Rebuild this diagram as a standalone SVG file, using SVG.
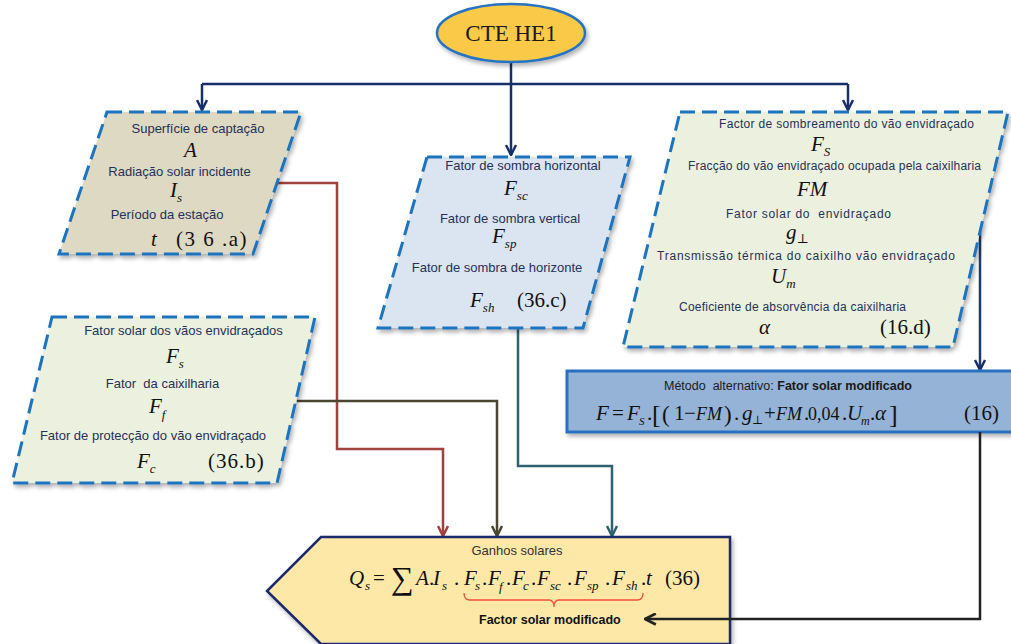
<svg xmlns="http://www.w3.org/2000/svg" width="1011" height="644" viewBox="0 0 1011 644">
  <defs>
    <style>
      .lbl { font-family: "Liberation Sans", Arial, sans-serif; font-size: 13px; fill: #26305a; text-anchor: middle; }
      .lbl2 { font-family: "Liberation Sans", Arial, sans-serif; font-size: 12px; fill: #26305a; text-anchor: middle; }
      .m { font-family: "Liberation Serif", "DejaVu Serif", serif; font-style: italic; font-size: 21px; fill: #111; }
      .n { font-style: normal; }
      .sub { font-size: 13px; }
      .box { stroke: #1e73be; stroke-width: 3; stroke-dasharray: 15 7; filter: url(#shadow); }
      .conn { fill: none; stroke-width: 2.5; }
    </style>
    <filter id="shadow" x="-10%" y="-10%" width="125%" height="125%">
      <feDropShadow dx="2" dy="3" stdDeviation="2" flood-color="#000" flood-opacity="0.3"/>
    </filter>
    <marker id="aNavy" viewBox="0 0 12 12" refX="11" refY="6" markerWidth="12" markerHeight="12" markerUnits="userSpaceOnUse" orient="auto">
      <path d="M1,1 L11,6 L1,11" fill="none" stroke="#17306b" stroke-width="2.5"/>
    </marker>
    <marker id="aRed" viewBox="0 0 12 12" refX="11" refY="6" markerWidth="12" markerHeight="12" markerUnits="userSpaceOnUse" orient="auto">
      <path d="M1,1 L11,6 L1,11" fill="none" stroke="#a2403c" stroke-width="2.5"/>
    </marker>
    <marker id="aOlive" viewBox="0 0 12 12" refX="11" refY="6" markerWidth="12" markerHeight="12" markerUnits="userSpaceOnUse" orient="auto">
      <path d="M1,1 L11,6 L1,11" fill="none" stroke="#4a4630" stroke-width="2.5"/>
    </marker>
    <marker id="aTeal" viewBox="0 0 12 12" refX="11" refY="6" markerWidth="12" markerHeight="12" markerUnits="userSpaceOnUse" orient="auto">
      <path d="M1,1 L11,6 L1,11" fill="none" stroke="#2f6172" stroke-width="2.5"/>
    </marker>
    <marker id="aBlack" viewBox="0 0 12 12" refX="11" refY="6" markerWidth="13" markerHeight="13" markerUnits="userSpaceOnUse" orient="auto">
      <path d="M1,1 L11,6 L1,11" fill="none" stroke="#222" stroke-width="2.5"/>
    </marker>
  </defs>

  <rect width="1011" height="644" fill="#ffffff"/>

  <!-- connectors -->
  <g id="connectors">
    <line class="conn" x1="511" y1="62" x2="511" y2="155" stroke="#17306b" marker-end="url(#aNavy)"/>
    <line class="conn" x1="202" y1="84" x2="848" y2="84" stroke="#17306b"/>
    <line class="conn" x1="202" y1="84" x2="202" y2="110" stroke="#17306b" marker-end="url(#aNavy)"/>
    <line class="conn" x1="848" y1="84" x2="848" y2="110" stroke="#17306b" marker-end="url(#aNavy)"/>
    <path class="conn" d="M277,183 H337 V449 H443 V536" stroke="#a2403c" marker-end="url(#aRed)"/>
    <path class="conn" d="M297,401 H497 V536" stroke="#4a4630" marker-end="url(#aOlive)"/>
    <path class="conn" d="M518,328 V466 H612 V536" stroke="#2f6172" marker-end="url(#aTeal)"/>
    <path class="conn" d="M980,230 V370" stroke="#1f3a6a" marker-end="url(#aNavy)"/>
  </g>

  <!-- start node -->
  <g id="cte-he1">
    <ellipse cx="511" cy="33" rx="74" ry="29" fill="#f9c946" stroke="#2673c4" stroke-width="2.5" filter="url(#shadow)"/>
    <text x="511" y="41" font-family="Liberation Serif, serif" font-size="23" fill="#1a1a1a" text-anchor="middle">CTE HE1</text>
  </g>

  <!-- captação / radiação / período -->
  <g id="box-a">
    <path class="box" d="M107,112 H301 L253,254 H59 Z" fill="#ddd9c3"/>
    <text class="lbl" x="198" y="133">Superfície de captação</text>
    <text class="m" x="184" y="157">A</text>
    <text class="lbl" x="179.5" y="176">Radiação solar incidente</text>
    <text class="m" x="170" y="197">I<tspan class="sub" dy="5">s</tspan></text>
    <text class="lbl" x="167" y="219">Período da estação</text>
    <text class="m" x="151" y="246">t</text>
    <text class="m n" x="176" y="246" letter-spacing="1.5">(3 6 .a)</text>
  </g>

  <!-- sombreamento -->
  <g id="box-c">
    <path class="box" d="M427,157 H630 L583,328 H378 Z" fill="#dbe5f1"/>
    <text class="lbl" x="523" y="170">Fator de sombra horizontal</text>
    <text class="m" x="504" y="195">F<tspan class="sub" dy="5">sc</tspan></text>
    <text class="lbl" x="510" y="223">Fator de sombra vertical</text>
    <text class="m" x="492" y="243">F<tspan class="sub" dy="5">sp</tspan></text>
    <text class="lbl" x="497" y="272">Fator de sombra de horizonte</text>
    <text class="m" x="470" y="307">F<tspan class="sub" dy="5">sh</tspan></text>
    <text class="m n" x="517" y="307">(36.c)</text>
  </g>

  <!-- parâmetros do fator solar modificado -->
  <g id="box-d">
    <path class="box" d="M680,112 H1008 L953,347 H623 Z" fill="#ebf1de"/>
    <text class="lbl2" x="846.5" y="128" textLength="255" lengthAdjust="spacing">Factor de sombreamento do vão envidraçado</text>
    <text class="m" x="811" y="151" font-size="24">F<tspan class="sub" dy="5" font-size="15">S</tspan></text>
    <text class="lbl2" x="834.5" y="170" textLength="293" lengthAdjust="spacing">Fracção do vão envidraçado ocupada pela caixilharia</text>
    <text class="m" x="797" y="196">FM</text>
    <text class="lbl2" x="808.5" y="218" textLength="165" lengthAdjust="spacing">Fator solar do&#160; envidraçado</text>
    <text class="m" x="786" y="239">g<tspan class="n sub" dy="4">⊥</tspan></text>
    <text class="lbl2" x="806" y="260" textLength="298" lengthAdjust="spacing">Transmissão térmica do caixilho vão envidraçado</text>
    <text class="m" x="771" y="283">U<tspan class="sub" dy="5">m</tspan></text>
    <text class="lbl2" x="792.5" y="311" textLength="227" lengthAdjust="spacing">Coeficiente de absorvência da caixilharia</text>
    <text class="m" x="759" y="334" font-size="22">α</text>
    <text class="m n" x="880" y="334">(16.d)</text>
  </g>

  <!-- fatores solares do vão -->
  <g id="box-b">
    <path class="box" d="M52,317 H315 L277,483 H12 Z" fill="#ebf1de"/>
    <text class="lbl" x="183.5" y="335">Fator solar dos vãos envidraçados</text>
    <text class="m" x="166" y="363">F<tspan class="sub" dy="5">s</tspan></text>
    <text class="lbl" x="162.5" y="388">Fator&#160; da caixilharia</text>
    <text class="m" x="149" y="413">F<tspan class="sub" dy="6">f</tspan></text>
    <text class="lbl" x="153" y="440">Fator de protecção do vão envidraçado</text>
    <text class="m" x="137" y="468">F<tspan class="sub" dy="5">c</tspan></text>
    <text class="m n" x="208" y="468" font-size="22" letter-spacing="1">(36.b)</text>
  </g>

  <!-- método alternativo -->
  <g id="metodo">
    <rect x="567" y="371" width="450" height="61" fill="#95b3d7" stroke="#2a70c0" stroke-width="3" filter="url(#shadow)"/>
    <text x="664" y="390" font-family="Liberation Sans, Arial, sans-serif" font-size="12.5" fill="#1a1a1a">Método&#160; alternativo: <tspan font-weight="bold">Fator solar modificado</tspan></text>
    <text class="m" font-size="19"><tspan x="596" y="420">F</tspan><tspan class="n" x="612" y="420">=</tspan><tspan x="627" y="420">F</tspan><tspan x="639" y="425" font-size="11">S</tspan><tspan class="n" x="647" y="420">.</tspan><tspan class="n" x="652" y="423" font-size="26">[</tspan><tspan class="n" x="662" y="422" font-size="23">(</tspan><tspan class="n" x="674" y="420">1</tspan><tspan class="n" x="684" y="420">−</tspan><tspan x="696" y="420" font-size="18">FM</tspan><tspan class="n" x="724" y="422" font-size="23">)</tspan><tspan class="n" x="734" y="420">.</tspan><tspan x="742" y="420">g</tspan><tspan class="n" x="752" y="424" font-size="12">⊥</tspan><tspan class="n" x="764" y="420">+</tspan><tspan x="776" y="420" font-size="18">FM</tspan><tspan class="n" x="804" y="420">.</tspan><tspan class="n" x="808" y="420" font-size="18">0,04</tspan><tspan class="n" x="842" y="420">.</tspan><tspan x="847" y="420">U</tspan><tspan x="861" y="425" font-size="12">m</tspan><tspan class="n" x="870" y="420">.</tspan><tspan x="875" y="420">α</tspan><tspan class="n" x="889" y="423" font-size="26">]</tspan><tspan class="n" x="964" y="420">(16)</tspan></text>
  </g>

  <!-- ganhos solares -->
  <g id="ganhos">
    <path d="M321,537 H730 V644 H321 L267,591 Z" fill="#fde8a8" stroke="#1a2a6c" stroke-width="2.5" filter="url(#shadow)"/>
    <text x="517" y="555" font-family="Liberation Sans, Arial, sans-serif" font-size="13" fill="#333" text-anchor="middle">Ganhos solares</text>
    <text class="m" font-size="22"><tspan x="349" y="585">Q</tspan><tspan class="sub" x="365" y="590">s</tspan><tspan class="n" x="373" y="585">=</tspan><tspan class="n" x="391" y="589" font-size="32">∑</tspan><tspan x="416" y="585">A</tspan><tspan class="n" x="429" y="585">.</tspan><tspan x="433" y="585">I</tspan><tspan class="sub" x="442" y="590">s</tspan><tspan class="n" x="454" y="585">.</tspan><tspan x="464" y="585">F</tspan><tspan class="sub" x="475" y="590">s</tspan><tspan class="n" x="482" y="585">.</tspan><tspan x="488" y="585">F</tspan><tspan class="sub" x="499" y="591">f</tspan><tspan class="n" x="506" y="585">.</tspan><tspan x="512" y="585">F</tspan><tspan class="sub" x="523" y="590">c</tspan><tspan class="n" x="531" y="585">.</tspan><tspan x="537" y="585">F</tspan><tspan class="sub" x="550" y="590">sc</tspan><tspan class="n" x="567" y="585">.</tspan><tspan x="574" y="585">F</tspan><tspan class="sub" x="587" y="590">sp</tspan><tspan class="n" x="605" y="585">.</tspan><tspan x="612" y="585">F</tspan><tspan class="sub" x="626" y="590">sh</tspan><tspan class="n" x="641" y="585">.</tspan><tspan x="646" y="585">t</tspan><tspan class="n" x="665" y="585">(36)</tspan></text>
    <path d="M464,593 Q464,600 470,600 H549 Q554,600 554,607 Q554,600 559,600 H637 Q643,600 643,593" fill="none" stroke="#f0503c" stroke-width="1.3"/>
    <text x="479" y="624" font-family="Liberation Sans, Arial, sans-serif" font-size="12.5" font-weight="bold" fill="#111">Factor solar modificado</text>
  </g>

  <!-- retorno do fator solar modificado -->
  <g id="connector-return">
    <path class="conn" d="M980,432 V619 H645" stroke="#222" marker-end="url(#aBlack)"/>
  </g>
</svg>
